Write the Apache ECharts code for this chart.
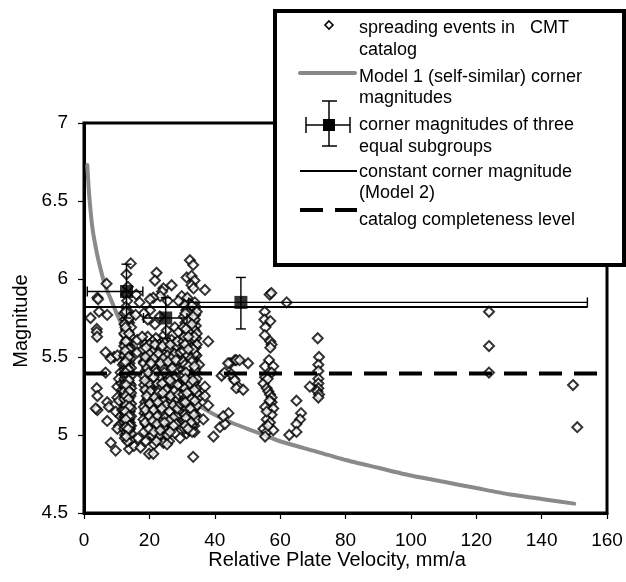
<!DOCTYPE html>
<html>
<head>
<meta charset="utf-8">
<script src="https://cdn.jsdelivr.net/npm/echarts@6/dist/echarts.min.js"></script>
<style>html,body{margin:0;padding:0;background:#fff}#c{width:626px;height:582px}</style>
</head>
<body>
<div id="c"></div>
<script>
// ---- Data ----
var xTicks = [0, 20, 40, 60, 80, 100, 120, 140, 160];
var yTicks = [4.5, 5, 5.5, 6, 6.5, 7];

// spreading events (relative plate velocity mm/a, magnitude)
var eventsLeft = [[4.1,5.88],[4.3,5.87],[6.9,5.97],[4.6,5.79],[2.0,5.75],[7.1,5.77],[3.9,5.68],[3.9,5.66],[4.0,5.63],
  [6.6,5.53],[9.2,5.50],[8.2,5.49],[10.2,5.51],[6.6,5.40],[3.9,5.30],[4.1,5.25],[4.1,5.16],[3.6,5.17],[7.1,5.21],[7.6,5.18],
  [10.2,5.31],[10.2,5.24],[9.7,5.15],[11.2,5.12],[7.1,5.09],[10.7,5.06],[10.2,5.04],[8.2,4.95],[9.7,4.90],[13.8,4.91],[15.3,4.93],
  [11.2,5.40],[10.7,5.36],[11.7,5.29],[12.2,5.20],[11.7,5.16],[10.7,5.22],[11.5,5.33],[11.9,5.45]];
var eventsA = [[14.3,6.10],[13.0,6.03],[13.4,5.95],[12.9,5.90],[13.2,5.86],[12.8,5.82],[13.6,5.79],[13.0,5.77],[12.6,5.74],[13.8,5.72],
  [13.3,5.70],[12.9,5.68],[13.5,5.66],[12.7,5.64],[13.9,5.62],[13.1,5.61],[12.5,5.59],[13.6,5.57],[13.0,5.56],[14.1,5.54],[12.8,5.53],
  [13.4,5.51],[12.6,5.50],[13.8,5.48],[13.2,5.47],[12.9,5.45],[13.7,5.44],[12.5,5.42],[13.3,5.41],[14.0,5.40],[12.8,5.38],[13.5,5.37],
  [13.0,5.35],[12.6,5.34],[13.9,5.33],[13.2,5.31],[12.7,5.30],[13.6,5.29],[13.1,5.27],[12.5,5.26],[14.2,5.25],[13.4,5.24],[12.9,5.22],
  [13.7,5.21],[13.0,5.19],[12.6,5.18],[13.5,5.17],[14.0,5.15],[12.8,5.14],[13.3,5.13],[12.5,5.11],[13.8,5.10],[13.1,5.09],[12.7,5.07],
  [13.6,5.06],[13.2,5.05],[14.1,5.04],[12.9,5.03],[13.4,5.01],[12.6,5.00],[13.7,4.99],[14.3,4.97],[13.0,5.58],[13.9,5.46],[12.4,5.36],
  [14.3,5.32],[13.5,5.20],[12.4,5.12],[14.0,5.08]];
var eventsA2 = [[12.3,5.78],[14.2,5.76],[13.4,5.73],[12.4,5.71],[14.4,5.69],[13.0,5.67],[12.3,5.65],[14.3,5.63],[13.4,5.60],[12.3,5.57],
  [14.4,5.55],[13.3,5.53],[12.3,5.51],[14.3,5.49],[13.0,5.48],[12.3,5.46],[14.4,5.43],[13.2,5.43],[12.4,5.39],[14.4,5.38],[13.3,5.36],
  [12.3,5.32],[14.4,5.30],[13.0,5.28],[12.3,5.28],[14.4,5.27],[13.3,5.22],[12.3,5.23],[14.4,5.20],[13.2,5.16],[12.3,5.16],[14.4,5.17],
  [13.0,5.12],[12.3,5.08],[14.4,5.12],[13.3,5.08],[12.3,5.04],[14.4,5.06],[13.0,5.02],[12.5,4.98],[14.4,5.01],[13.6,5.03],[13.3,4.96]];
var eventsA3 = [[12.8,5.79],[13.8,5.75],[12.7,5.69],[13.8,5.65],[12.8,5.60],[13.7,5.55],[12.6,5.54],[13.6,5.50],[12.7,5.47],[13.6,5.42],
  [12.7,5.40],[13.7,5.35],[12.9,5.32],[13.8,5.28],[12.8,5.25],[13.6,5.23],[12.9,5.19],[13.9,5.18],[12.7,5.15],[13.7,5.12],[12.8,5.10],
  [13.9,5.06],[12.8,5.05],[13.5,5.04],[12.9,4.99]];
var eventsB = [[19.5,5.63],[22.0,5.62],[24.5,5.64],[26.8,5.61],[21.0,5.60],[18.6,5.58],[20.3,5.57],[23.1,5.58],[25.6,5.57],[27.9,5.59],
  [22.2,5.55],[19.2,5.53],[21.5,5.52],[24.0,5.53],[26.3,5.52],[28.4,5.54],[20.4,5.50],[23.0,5.50],[25.1,5.49],[18.3,5.47],[21.9,5.47],
  [24.6,5.46],[27.2,5.47],[19.8,5.45],[22.8,5.44],[26.0,5.44],[28.8,5.45],[18.9,5.41],[21.2,5.41],[23.7,5.40],[25.4,5.42],[27.6,5.40],
  [20.2,5.38],[22.5,5.38],[24.9,5.37],[26.7,5.38],[19.5,5.35],[21.8,5.34],[23.3,5.35],[25.8,5.34],[28.2,5.35],[18.4,5.32],[20.7,5.31],
  [22.9,5.31],[24.4,5.32],[27.0,5.31],[19.1,5.28],[21.4,5.28],[23.8,5.27],[26.1,5.28],[28.6,5.27],[20.0,5.25],[22.3,5.24],[24.9,5.25],
  [27.4,5.24],[18.7,5.21],[21.0,5.21],[23.2,5.20],[25.5,5.21],[28.0,5.20],[19.8,5.18],[22.0,5.17],[24.2,5.18],[26.6,5.17],[18.5,5.14],
  [20.6,5.14],[23.0,5.13],[25.2,5.14],[27.8,5.13],[19.6,5.11],[21.8,5.10],[24.0,5.10],[26.3,5.11],[28.5,5.10],[18.9,5.07],[21.2,5.06],
  [23.5,5.06],[25.9,5.07],[20.3,5.03],[22.6,5.03],[24.8,5.02],[27.1,5.04],[19.4,5.00],[23.9,4.99],[21.7,4.98],[18.9,4.96],[19.9,4.88],
  [21.4,4.94],[24.5,4.96],[26.0,4.96],[21.2,4.88],[24.3,4.95],[17.3,4.92],[16.5,4.98],[22.2,6.04],[21.7,5.99],[24.3,5.94],[23.9,5.92],
  [26.8,5.96],[23.3,5.89],[21.2,5.88],[20.2,5.87],[25.6,5.86],[20.2,5.80],[21.7,5.71],[25.3,5.67],[27.8,5.69],[28.9,5.66],[26.3,5.57],
  [18.3,5.78],[19.5,5.74],[23.2,5.76],[16.3,5.61],[17.8,5.63],[15.8,5.77],[16.3,5.53],[18.3,5.46],[16.0,5.90],[17.0,5.85],
  [20.8,5.45],[22.4,5.29],[25.0,5.30],[26.9,5.26],[23.6,5.16],[20.9,5.19],[19.0,5.38],[27.5,5.50],[21.6,5.57]];
var eventsB2 = [[18.1,5.55],[20.9,5.54],[23.6,5.56],[26.0,5.55],[28.2,5.57],[19.9,5.52],[22.7,5.52],[25.5,5.51],[27.7,5.52],[18.8,5.50],
  [21.3,5.49],[24.2,5.49],[26.7,5.49],[28.9,5.48],[19.3,5.43],[21.9,5.42],[24.1,5.43],[26.5,5.41],[28.4,5.42],[18.2,5.38],[20.8,5.36],
  [23.2,5.37],[25.9,5.37],[28.0,5.37],[19.9,5.33],[22.4,5.33],[24.9,5.34],[27.4,5.33],[18.7,5.29],[21.0,5.26],[23.0,5.29],[25.5,5.27],
  [27.9,5.29],[19.5,5.23],[21.9,5.22],[24.4,5.22],[26.8,5.22],[28.7,5.23],[18.3,5.18],[20.6,5.17],[23.0,5.16],[25.5,5.17],[27.6,5.16],
  [19.2,5.13],[21.6,5.13],[24.0,5.14],[26.6,5.14],[28.3,5.12],[18.2,5.10],[20.7,5.08],[23.0,5.09],[25.4,5.09],[27.6,5.08],[19.6,5.05],
  [22.0,5.05],[24.4,5.05],[26.8,5.06],[20.8,5.00],[23.0,5.00],[25.5,5.00],[27.9,5.01],[22.2,4.96],[18.4,5.02],[25.4,4.94],[20.0,5.58],
  [24.7,5.59]];
var eventsB3 = [[19.0,5.56],[21.7,5.58],[24.0,5.57],[26.4,5.58],[28.6,5.60],[20.5,5.46],[23.4,5.46],[25.7,5.47],[28.1,5.48],[19.7,5.40],
  [22.1,5.40],[24.6,5.40],[27.0,5.43],[18.6,5.35],[21.3,5.37],[23.9,5.33],[26.3,5.35],[28.7,5.32],[20.3,5.28],[22.7,5.27],[25.2,5.29],
  [27.6,5.28],[19.2,5.25],[21.6,5.24],[24.1,5.27],[26.5,5.25],[28.9,5.26],[20.1,5.20],[22.6,5.21],[25.0,5.19],[27.3,5.19],[18.8,5.16],
  [21.3,5.16],[23.8,5.17],[26.1,5.15],[28.6,5.17],[20.0,5.12],[22.4,5.12],[24.8,5.11],[27.3,5.11],[18.7,5.08],[21.0,5.09],[23.6,5.08],
  [26.0,5.09],[28.2,5.07],[19.9,5.04],[22.3,5.07],[24.6,5.08],[27.4,5.06],[21.4,5.02],[23.3,5.03],[26.3,5.02]];
var eventsC = [[32.4,6.12],[33.4,6.09],[31.4,6.01],[32.9,6.02],[33.8,5.99],[32.9,5.96],[33.5,5.94],[29.9,5.89],[28.9,5.86],[31.6,5.88],
  [33.9,5.85],[32.2,5.84],[34.2,5.82],[31.3,5.80],[33.0,5.79],[34.0,5.77],[32.3,5.75],[33.5,5.73],[31.0,5.72],[34.2,5.70],[32.7,5.69],
  [33.8,5.67],[31.5,5.66],[33.1,5.64],[34.3,5.62],[32.0,5.61],[30.4,5.60],[33.6,5.59],[32.5,5.57],[34.1,5.56],[31.2,5.55],[33.0,5.53],
  [32.0,5.52],[34.4,5.51],[30.8,5.50],[33.4,5.49],[32.2,5.47],[34.0,5.46],[31.5,5.45],[33.2,5.43],[30.2,5.42],[32.6,5.41],[34.3,5.40],
  [31.8,5.39],[33.6,5.37],[32.3,5.36],[30.6,5.35],[33.9,5.34],[31.3,5.33],[32.9,5.31],[34.4,5.30],[31.9,5.29],[33.2,5.27],[30.4,5.26],
  [32.5,5.25],[34.0,5.24],[31.6,5.22],[33.5,5.21],[32.1,5.19],[30.8,5.18],[33.8,5.17],[32.8,5.15],[31.2,5.14],[34.2,5.13],[32.4,5.11],
  [33.3,5.10],[30.5,5.09],[31.9,5.07],[33.7,5.06],[32.6,5.04],[31.4,5.01],[29.4,4.98],[33.4,4.86],[35.2,5.45],[35.5,5.25],[29.6,5.20],
  [29.8,5.38],[29.5,5.53]];
var eventsC2 = [[30.9,5.83],[33.0,5.83],[34.5,5.79],[31.9,5.78],[30.6,5.76],[33.9,5.74],[32.0,5.71],[30.4,5.69],[33.5,5.68],[32.0,5.66],
  [34.5,5.65],[30.7,5.63],[33.1,5.61],[31.6,5.59],[34.5,5.58],[32.9,5.56],[30.5,5.54],[31.7,5.51],[33.9,5.52],[32.7,5.49],[30.4,5.47],
  [31.5,5.43],[33.9,5.42],[32.9,5.38],[30.6,5.38],[34.5,5.36],[31.8,5.34],[33.4,5.33],[30.9,5.30],[32.5,5.28],[34.5,5.27],[31.1,5.24],
  [33.3,5.23],[30.4,5.21],[32.3,5.21],[34.5,5.19],[31.5,5.17],[33.1,5.15],[30.9,5.13],[32.0,5.12],[34.5,5.10],[31.3,5.09],[33.0,5.06],
  [30.7,5.04],[32.1,5.03],[33.8,5.02]];
var eventsC3 = [[31.0,5.78],[33.4,5.76],[31.8,5.73],[33.0,5.71],[31.2,5.68],[33.7,5.63],[31.9,5.63],[30.9,5.58],[33.4,5.55],[31.9,5.55],
  [33.0,5.47],[30.9,5.45],[32.0,5.44],[33.8,5.44],[31.2,5.40],[32.4,5.33],[31.0,5.36],[33.3,5.35],[33.8,5.29],[31.5,5.27],[32.9,5.23],
  [31.0,5.21],[33.9,5.22],[32.6,5.17],[31.2,5.11],[33.6,5.13],[32.7,5.08],[31.0,5.06],[33.1,5.02],[31.8,5.04]];
var eventsMid = [[37.0,5.93],[38.0,5.60],[37.0,5.31],[37.0,5.25],[38.0,5.19],[36.5,5.10],[39.6,4.99],[41.6,5.05],[43.1,5.07],[44.2,5.14],
  [42.6,5.12],[44.7,5.46],[42.1,5.38],[46.2,5.48],[47.2,5.31],[45.8,5.36],[46.6,5.48],[47.6,5.48],[50.2,5.46],[45.1,5.39],[46.1,5.35],
  [46.6,5.30],[48.7,5.29],[43.0,5.40],[44.1,5.46]];
var events56 = [[56.8,5.90],[57.3,5.91],[55.3,5.79],[55.2,5.74],[57.0,5.73],[55.5,5.69],[55.3,5.64],[57.0,5.60],[57.4,5.58],[57.0,5.56],
  [56.6,5.48],[55.4,5.44],[57.9,5.44],[57.4,5.40],[55.4,5.37],[54.9,5.33],[55.9,5.30],[56.4,5.28],[56.9,5.26],[57.4,5.24],[57.4,5.21],
  [55.4,5.18],[57.9,5.17],[57.4,5.13],[55.9,5.10],[56.9,5.08],[54.9,5.04],[55.9,5.02],[57.9,5.03],[55.4,4.99],[56.2,5.36],[56.8,5.22],
  [55.9,5.15],[56.3,5.06],[62.0,5.85]];
var events65 = [[62.8,5.00],[65.0,5.22],[66.4,5.14],[66.1,5.10],[65.0,5.07],[65.0,5.02]];
var events72 = [[71.5,5.62],[71.9,5.50],[71.7,5.45],[71.7,5.41],[71.7,5.36],[71.7,5.33],[71.7,5.30],[71.4,5.28],[71.9,5.26],[71.7,5.24],[69.1,5.31]];
var eventsFar = [[123.9,5.79],[123.9,5.57],[123.9,5.40],[149.6,5.32],[150.9,5.05]];

// Model 1 (self-similar) corner magnitudes
var model1V = [1, 1.5, 2, 2.5, 3, 4, 5, 6, 7, 8, 9, 10, 12, 14, 16, 18, 20, 23, 26, 30, 35, 40, 45, 50, 55, 60, 70, 80, 90, 100, 110, 120, 130, 140, 150];
var model1M = [6.73, 6.56, 6.44, 6.34, 6.27, 6.16, 6.07, 5.99, 5.93, 5.88, 5.83, 5.78, 5.69, 5.61, 5.55, 5.49, 5.44, 5.38, 5.32, 5.26, 5.19, 5.13, 5.08, 5.04, 5.00, 4.96, 4.90, 4.84, 4.79, 4.74, 4.70, 4.66, 4.62, 4.59, 4.56];

// corner magnitudes of three equal subgroups, with error ranges
var cornerV = [13.0, 25.0, 48.0];
var cornerM = [5.92, 5.75, 5.85];
var cornerVLow = [1.0, 18.2, 32.0];
var cornerVHigh = [18.0, 31.5, 154.0];
var cornerMLow = [5.75, 5.62, 5.68];
var cornerMHigh = [6.095, 5.88, 6.01];

// constant corner magnitude (Model 2) and catalog completeness level
var model2V = [0, 154];
var model2M = [5.82, 5.82];
var completeV = [0, 160];
var completeM = [5.395, 5.395];

// ---- build ----
var FONT = '"Liberation Sans", Arial, Helvetica, sans-serif';
var events = [].concat(eventsLeft, eventsA, eventsA2, eventsA3, eventsB, eventsB2, eventsB3, eventsC, eventsC2, eventsC3,
  eventsMid, events56, events65, events72, eventsFar);
function zip(a, b) { return a.map(function (v, i) { return [v, b[i]]; }); }
var cornerData = cornerV.map(function (v, i) { return [v, cornerM[i], cornerVLow[i], cornerVHigh[i], cornerMLow[i], cornerMHigh[i]]; });

var chart = echarts.init(document.getElementById('c'), null, { renderer: 'canvas' });
var legendTexts = [
  ['spreading events in   CMT', 28], ['catalog', 50],
  ['Model 1 (self-similar) corner', 77], ['magnitudes', 98],
  ['corner magnitudes of three', 125], ['equal subgroups', 147],
  ['constant corner magnitude', 172], ['(Model 2)', 193],
  ['catalog completeness level', 220]
];
var legendEls = [
  { type: 'rect', shape: { x: 275, y: 11, width: 349, height: 254 }, style: { fill: '#fff', stroke: '#000', lineWidth: 4 } },
  { type: 'polygon', shape: { points: [[329, 21], [333, 25], [329, 29], [325, 25]] }, style: { fill: '#fff', stroke: '#000', lineWidth: 1.6 } },
  { type: 'line', shape: { x1: 300, y1: 73, x2: 355, y2: 73 }, style: { stroke: '#888', lineWidth: 4, lineCap: 'round' } },
  { type: 'line', shape: { x1: 306, y1: 125, x2: 350, y2: 125 }, style: { stroke: '#000', lineWidth: 1.5 } },
  { type: 'line', shape: { x1: 306, y1: 117, x2: 306, y2: 133 }, style: { stroke: '#000', lineWidth: 1.5 } },
  { type: 'line', shape: { x1: 350, y1: 117, x2: 350, y2: 133 }, style: { stroke: '#000', lineWidth: 1.5 } },
  { type: 'line', shape: { x1: 329, y1: 101, x2: 329, y2: 146 }, style: { stroke: '#000', lineWidth: 1.5 } },
  { type: 'line', shape: { x1: 322, y1: 101, x2: 337, y2: 101 }, style: { stroke: '#000', lineWidth: 1.5 } },
  { type: 'line', shape: { x1: 322, y1: 146, x2: 337, y2: 146 }, style: { stroke: '#000', lineWidth: 1.5 } },
  { type: 'rect', shape: { x: 323, y: 119, width: 12, height: 12 }, style: { fill: '#000' } },
  { type: 'line', shape: { x1: 300, y1: 171, x2: 357, y2: 171 }, style: { stroke: '#000', lineWidth: 2 } },
  { type: 'line', shape: { x1: 300, y1: 210, x2: 323, y2: 210 }, style: { stroke: '#000', lineWidth: 4 } },
  { type: 'line', shape: { x1: 335, y1: 210, x2: 357, y2: 210 }, style: { stroke: '#000', lineWidth: 4 } }
];
legendTexts.forEach(function (t) {
  legendEls.push({ type: 'text', x: 359, y: t[1], style: { text: t[0], font: '18px ' + FONT, fill: '#000', textAlign: 'left', textVerticalAlign: 'middle' } });
});

var option = {
  animation: false,
  backgroundColor: '#fff',
  grid: { left: 84, right: 19, top: 123, bottom: 69, show: true, borderColor: '#000', borderWidth: 3, backgroundColor: 'transparent' },
  xAxis: {
    type: 'value', min: xTicks[0], max: xTicks[xTicks.length - 1], interval: 20,
    axisLine: { show: true, onZero: false, lineStyle: { color: '#000', width: 3 } },
    axisTick: { show: true, inside: false, length: 6, lineStyle: { color: '#000', width: 1.2 } },
    axisLabel: { color: '#000', fontSize: 19, fontFamily: FONT, margin: 18 },
    splitLine: { show: false }
  },
  yAxis: {
    type: 'value', min: yTicks[0], max: yTicks[yTicks.length - 1], interval: 0.5,
    axisLine: { show: true, onZero: false, lineStyle: { color: '#000', width: 3 } },
    axisTick: { show: true, inside: false, length: 6, lineStyle: { color: '#000', width: 1.2 } },
    axisLabel: { color: '#000', fontSize: 19, fontFamily: FONT, margin: 16 },
    splitLine: { show: false }
  },
  graphic: [
    { type: 'text', x: 337, y: 560, z: 50, style: { text: 'Relative Plate Velocity, mm/a', font: '20px ' + FONT, fill: '#000', textAlign: 'center', textVerticalAlign: 'middle' } },
    { type: 'text', x: 21, y: 321, rotation: Math.PI / 2, z: 50, style: { text: 'Magnitude', font: '20px ' + FONT, fill: '#000', textAlign: 'center', textVerticalAlign: 'middle' } },
    { type: 'group', z: 100, children: legendEls }
  ],
  series: [
    { name: 'Model 1 (self-similar) corner magnitudes', type: 'line', data: zip(model1V, model1M), smooth: 0.2, showSymbol: false, symbol: 'none', z: 1,
      lineStyle: { color: '#8a8a8a', width: 4, cap: 'round', join: 'round' } },
    { name: 'spreading events in CMT catalog', type: 'scatter', data: events, symbol: 'diamond', symbolSize: [10, 10], z: 2,
      itemStyle: { color: '#fff', borderColor: '#000', borderWidth: 2 } },
    { name: 'constant corner magnitude (Model 2)', type: 'line', data: zip(model2V, model2M), showSymbol: false, symbol: 'none', z: 3,
      lineStyle: { color: '#000', width: 2 } },
    { name: 'catalog completeness level', type: 'line', data: zip(completeV, completeM), showSymbol: false, symbol: 'none', z: 3,
      lineStyle: { color: '#000', width: 4, type: [23, 12] } },
    { name: 'corner error bars', type: 'custom', z: 4, data: cornerData,
      renderItem: function (params, api) {
        var c = api.coord([api.value(0), api.value(1)]);
        var xl = api.coord([api.value(2), api.value(1)]);
        var xh = api.coord([api.value(3), api.value(1)]);
        var yl = api.coord([api.value(0), api.value(4)]);
        var yh = api.coord([api.value(0), api.value(5)]);
        var st = { stroke: '#000', lineWidth: 1.4 };
        var h = 5;
        return { type: 'group', children: [
          { type: 'line', shape: { x1: xl[0], y1: c[1], x2: xh[0], y2: c[1] }, style: st },
          { type: 'line', shape: { x1: xl[0], y1: c[1] - h, x2: xl[0], y2: c[1] + h }, style: st },
          { type: 'line', shape: { x1: xh[0], y1: c[1] - h, x2: xh[0], y2: c[1] + h }, style: st },
          { type: 'line', shape: { x1: c[0], y1: yl[1], x2: c[0], y2: yh[1] }, style: st },
          { type: 'line', shape: { x1: c[0] - h, y1: yl[1], x2: c[0] + h, y2: yl[1] }, style: st },
          { type: 'line', shape: { x1: c[0] - h, y1: yh[1], x2: c[0] + h, y2: yh[1] }, style: st }
        ] };
      } },
    { name: 'corner magnitudes of three equal subgroups', type: 'scatter', data: zip(cornerV, cornerM), symbol: 'rect', symbolSize: 13, z: 5,
      itemStyle: { color: '#000' } }
  ]
};
chart.setOption(option);
</script>
</body>
</html>
